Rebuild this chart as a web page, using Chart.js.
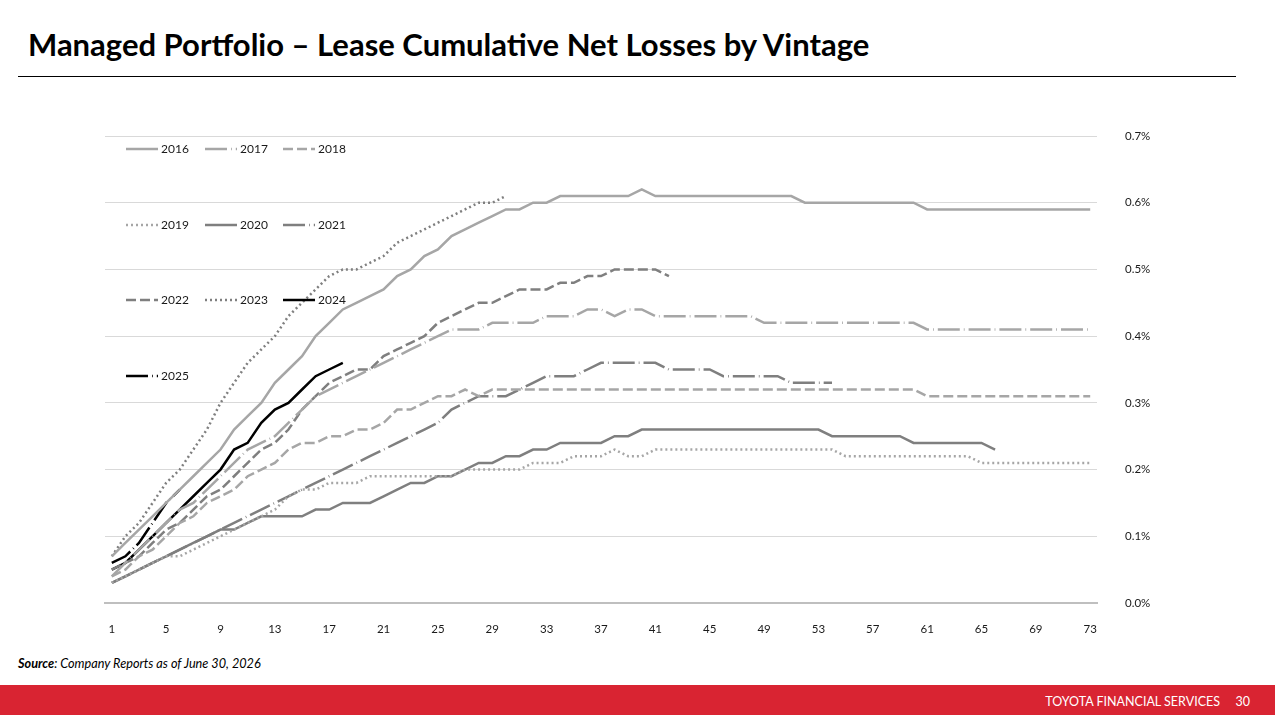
<!DOCTYPE html>
<html>
<head>
<meta charset="utf-8">
<title>Managed Portfolio – Lease Cumulative Net Losses by Vintage</title>
<script src="https://cdn.jsdelivr.net/npm/chart.js@4.4.1/dist/chart.umd.min.js"></script>
<style>
  html, body { margin: 0; padding: 0; }
  body { width: 1275px; height: 715px; position: relative; overflow: hidden; background: #fff; font-family: Lato, "Open Sans", sans-serif; }
  #titulo { position: absolute; left: 28px; top: 26px; margin: 0; font-size: 31px; font-weight: 700; line-height: 36px; color: #000; white-space: nowrap; }
  #linea { position: absolute; left: 18px; top: 76px; width: 1218px; height: 1px; background: #000; }
  #grafica-container { position: absolute; left: 0; top: 100px; width: 1275px; height: 540px; }
  #fuente { position: absolute; left: 18px; top: 655px; font-size: 12.7px; font-style: italic; color: #000; }
  #pie { position: absolute; left: 0; top: 685px; width: 1275px; height: 30px; background: #d92432; color: #fff; }
  #pie .marca { position: absolute; right: 55px; top: 9px; font-size: 12.5px; }
  #pie .num { position: absolute; right: 25px; top: 9px; font-size: 12.5px; }
</style>
</head>
<body>
<h1 id="titulo">Managed Portfolio – Lease Cumulative Net Losses by Vintage</h1>
<div id="linea"></div>
<div id="grafica-container"><canvas id="graficaPerdidas"></canvas></div>
<div id="fuente"><b>Source</b>: Company Reports as of June 30, 2026</div>
<div id="pie"><span class="marca">TOYOTA FINANCIAL SERVICES</span><span class="num">30</span></div>

<script>
// Meses desde el origen (eje X) y etiquetas visibles
const months = Array.from({ length: 73 }, (_, i) => i + 1);
const xTickLabels = [1, 5, 9, 13, 17, 21, 25, 29, 33, 37, 41, 45, 49, 53, 57, 61, 65, 69, 73];
const yTickLabels = [0, 0.1, 0.2, 0.3, 0.4, 0.5, 0.6, 0.7];

const vintages = ['2016', '2017', '2018', '2019', '2020', '2021', '2022', '2023', '2024', '2025'];

// Pérdidas netas acumuladas (%), por cosecha
const v2016 = [0.07, 0.09, 0.11, 0.13, 0.15, 0.17, 0.19, 0.21, 0.23, 0.26, 0.28, 0.30, 0.33, 0.35, 0.37, 0.40, 0.42, 0.44, 0.45, 0.46,
  0.47, 0.49, 0.50, 0.52, 0.53, 0.55, 0.56, 0.57, 0.58, 0.59, 0.59, 0.60, 0.60, 0.61, 0.61, 0.61, 0.61, 0.61, 0.61, 0.62,
  0.61, 0.61, 0.61, 0.61, 0.61, 0.61, 0.61, 0.61, 0.61, 0.61, 0.61, 0.60, 0.60, 0.60, 0.60, 0.60, 0.60, 0.60, 0.60, 0.60,
  0.59, 0.59, 0.59, 0.59, 0.59, 0.59, 0.59, 0.59, 0.59, 0.59, 0.59, 0.59, 0.59];
const v2017 = [0.04, 0.06, 0.08, 0.10, 0.12, 0.14, 0.15, 0.17, 0.19, 0.21, 0.23, 0.24, 0.25, 0.27, 0.29, 0.31, 0.32, 0.33, 0.34, 0.35,
  0.36, 0.37, 0.38, 0.39, 0.40, 0.41, 0.41, 0.41, 0.42, 0.42, 0.42, 0.42, 0.43, 0.43, 0.43, 0.44, 0.44, 0.43, 0.44, 0.44,
  0.43, 0.43, 0.43, 0.43, 0.43, 0.43, 0.43, 0.43, 0.42, 0.42, 0.42, 0.42, 0.42, 0.42, 0.42, 0.42, 0.42, 0.42, 0.42, 0.42,
  0.41, 0.41, 0.41, 0.41, 0.41, 0.41, 0.41, 0.41, 0.41, 0.41, 0.41, 0.41, 0.41];
const v2018 = [0.04, 0.05, 0.07, 0.08, 0.10, 0.12, 0.13, 0.15, 0.16, 0.17, 0.19, 0.20, 0.21, 0.23, 0.24, 0.24, 0.25, 0.25, 0.26, 0.26,
  0.27, 0.29, 0.29, 0.30, 0.31, 0.31, 0.32, 0.31, 0.32, 0.32, 0.32, 0.32, 0.32, 0.32, 0.32, 0.32, 0.32, 0.32, 0.32, 0.32,
  0.32, 0.32, 0.32, 0.32, 0.32, 0.32, 0.32, 0.32, 0.32, 0.32, 0.32, 0.32, 0.32, 0.32, 0.32, 0.32, 0.32, 0.32, 0.32, 0.32,
  0.31, 0.31, 0.31, 0.31, 0.31, 0.31, 0.31, 0.31, 0.31, 0.31, 0.31, 0.31, 0.31];
const v2019 = [0.03, 0.04, 0.05, 0.06, 0.07, 0.07, 0.08, 0.09, 0.10, 0.11, 0.12, 0.13, 0.14, 0.16, 0.17, 0.17, 0.18, 0.18, 0.18, 0.19,
  0.19, 0.19, 0.19, 0.19, 0.19, 0.19, 0.20, 0.20, 0.20, 0.20, 0.20, 0.21, 0.21, 0.21, 0.22, 0.22, 0.22, 0.23, 0.22, 0.22,
  0.23, 0.23, 0.23, 0.23, 0.23, 0.23, 0.23, 0.23, 0.23, 0.23, 0.23, 0.23, 0.23, 0.23, 0.22, 0.22, 0.22, 0.22, 0.22, 0.22,
  0.22, 0.22, 0.22, 0.22, 0.21, 0.21, 0.21, 0.21, 0.21, 0.21, 0.21, 0.21, 0.21];
const v2020 = [0.03, 0.04, 0.05, 0.06, 0.07, 0.08, 0.09, 0.10, 0.11, 0.11, 0.12, 0.13, 0.13, 0.13, 0.13, 0.14, 0.14, 0.15, 0.15, 0.15,
  0.16, 0.17, 0.18, 0.18, 0.19, 0.19, 0.20, 0.21, 0.21, 0.22, 0.22, 0.23, 0.23, 0.24, 0.24, 0.24, 0.24, 0.25, 0.25, 0.26,
  0.26, 0.26, 0.26, 0.26, 0.26, 0.26, 0.26, 0.26, 0.26, 0.26, 0.26, 0.26, 0.26, 0.25, 0.25, 0.25, 0.25, 0.25, 0.25, 0.24,
  0.24, 0.24, 0.24, 0.24, 0.24, 0.23];
const v2021 = [0.03, 0.04, 0.05, 0.06, 0.07, 0.08, 0.09, 0.10, 0.11, 0.12, 0.13, 0.14, 0.15, 0.16, 0.17, 0.18, 0.19, 0.20, 0.21, 0.22,
  0.23, 0.24, 0.25, 0.26, 0.27, 0.29, 0.30, 0.31, 0.31, 0.31, 0.32, 0.33, 0.34, 0.34, 0.34, 0.35, 0.36, 0.36, 0.36, 0.36,
  0.36, 0.35, 0.35, 0.35, 0.35, 0.34, 0.34, 0.34, 0.34, 0.34, 0.33, 0.33, 0.33, 0.33];
const v2022 = [0.05, 0.06, 0.07, 0.09, 0.11, 0.12, 0.14, 0.16, 0.17, 0.19, 0.21, 0.23, 0.24, 0.26, 0.29, 0.31, 0.33, 0.34, 0.35, 0.35,
  0.37, 0.38, 0.39, 0.40, 0.42, 0.43, 0.44, 0.45, 0.45, 0.46, 0.47, 0.47, 0.47, 0.48, 0.48, 0.49, 0.49, 0.50, 0.50, 0.50,
  0.50, 0.49];
const v2023 = [0.07, 0.10, 0.12, 0.15, 0.18, 0.20, 0.23, 0.26, 0.30, 0.33, 0.36, 0.38, 0.40, 0.43, 0.45, 0.47, 0.49, 0.50, 0.50, 0.51,
  0.52, 0.54, 0.55, 0.56, 0.57, 0.58, 0.59, 0.60, 0.60, 0.61];
const v2024 = [0.05, 0.06, 0.08, 0.10, 0.12, 0.14, 0.16, 0.18, 0.20, 0.23, 0.24, 0.27, 0.29, 0.30, 0.32, 0.34, 0.35, 0.36];
const v2025 = [0.06, 0.07, 0.09, 0.12, 0.15, 0.17];

const seriesData = [v2016, v2017, v2018, v2019, v2020, v2021, v2022, v2023, v2024, v2025];

// Estilos de línea
const GRIS_CLARO = '#a6a6a6';
const GRIS_MEDIO = '#7f7f7f';
const NEGRO = '#000000';
const lineColors = [GRIS_CLARO, GRIS_CLARO, GRIS_CLARO, GRIS_CLARO, GRIS_MEDIO, GRIS_MEDIO, GRIS_MEDIO, GRIS_MEDIO, NEGRO, NEGRO];
const SOLIDA = [];
const RAYA_PUNTO = [22, 4, 0.8, 4];
const RAYAS = [10, 4];
const PUNTOS = [2, 3];
const lineDashes = [SOLIDA, RAYA_PUNTO, RAYAS, PUNTOS, SOLIDA, RAYA_PUNTO, RAYAS, PUNTOS, SOLIDA, RAYA_PUNTO];

const FUENTE = 'Lato, "Open Sans", sans-serif';

// Leyenda dibujada dentro del área del gráfico (4 filas, 3 columnas)
const leyendaPlugin = {
    id: 'leyendaInterna',
    afterDatasetsDraw(chart) {
        const ctx = chart.ctx;
        const colX = [126, 205, 283];
        const rowY = [49, 125, 200, 276];
        ctx.save();
        chart.data.datasets.forEach((ds, i) => {
            const x = colX[i % 3];
            const y = rowY[Math.floor(i / 3)];
            ctx.beginPath();
            ctx.setLineDash(ds.borderDash || []);
            ctx.strokeStyle = ds.borderColor;
            ctx.lineWidth = 2.5;
            ctx.moveTo(x, y);
            ctx.lineTo(x + 32, y);
            ctx.stroke();
            ctx.setLineDash([]);
            ctx.fillStyle = '#1a1a1a';
            ctx.font = '12px ' + FUENTE;
            ctx.textBaseline = 'middle';
            ctx.textAlign = 'left';
            ctx.fillText(ds.label, x + 35, y);
        });
        ctx.restore();
    }
};

document.addEventListener("DOMContentLoaded", function() {
    const ctx = document.getElementById("graficaPerdidas").getContext("2d");

    const datasets = vintages.map((v, i) => ({
        label: v,
        data: seriesData[i],
        borderColor: lineColors[i],
        borderDash: lineDashes[i],
        borderWidth: 2.5,
        pointRadius: 0,
        tension: 0,
        fill: false
    }));

    new Chart(ctx, {
        type: "line",
        data: { labels: months, datasets: datasets },
        options: {
            responsive: true,
            maintainAspectRatio: false,
            animation: false,
            layout: { padding: { left: 105, top: 36, right: 0, bottom: 0 } },
            plugins: {
                legend: { display: false },
                tooltip: { enabled: false }
            },
            scales: {
                x: {
                    offset: true,
                    grid: { display: false },
                    border: { display: true, color: '#bfbfbf', width: 2 },
                    ticks: {
                        autoSkip: false,
                        maxRotation: 0,
                        padding: 11,
                        color: '#1a1a1a',
                        font: { size: 11.5, family: FUENTE },
                        callback: function(value, index) {
                            return xTickLabels.includes(months[index]) ? String(months[index]) : '';
                        }
                    },
                    afterFit: function(scale) { scale.height = 37; }
                },
                y: {
                    position: 'right',
                    min: yTickLabels[0],
                    max: yTickLabels[yTickLabels.length - 1],
                    grid: { color: '#d9d9d9', lineWidth: 1, drawTicks: false },
                    border: { display: false },
                    ticks: {
                        stepSize: 0.1,
                        padding: 28,
                        color: '#1a1a1a',
                        font: { size: 11.5, family: FUENTE },
                        callback: function(value) { return value.toFixed(1) + '%'; }
                    },
                    afterFit: function(scale) { scale.width = 178; }
                }
            }
        },
        plugins: [leyendaPlugin]
    });
});
</script>
</body>
</html>
